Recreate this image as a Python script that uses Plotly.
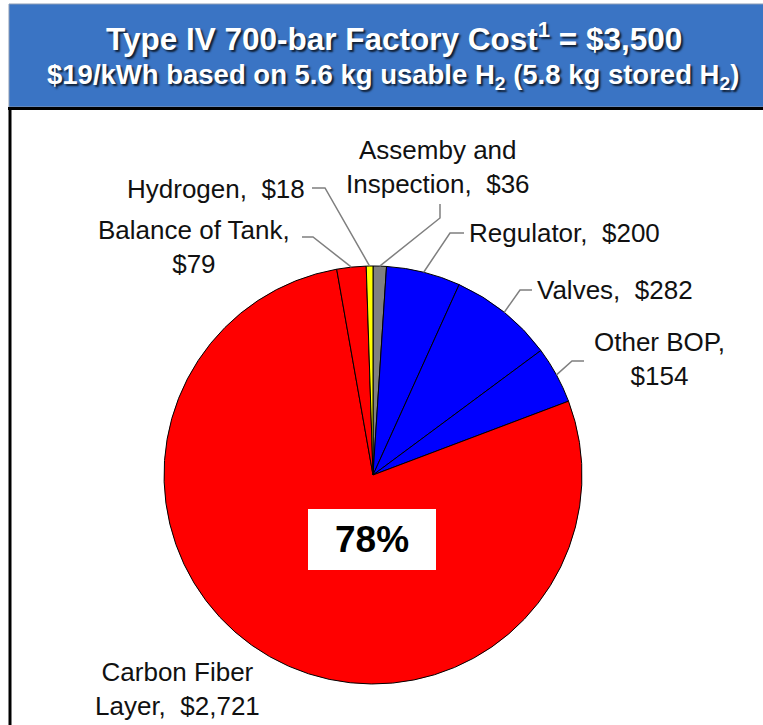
import math
import plotly.graph_objects as go

# ---- data ----
categories = ["Assemby and Inspection", "Regulator", "Valves", "Other BOP",
              "Carbon Fiber Layer", "Balance of Tank", "Hydrogen"]
costs = [36, 200, 282, 154, 2721, 79, 18]
colors = ["#808080", "#0000FF", "#0000FF", "#0000FF", "#FF0000", "#FF0000", "#FFFF00"]
label_texts = ["Assemby and<br>Inspection,  $36", "Regulator,  $200", "Valves,  $282",
               "Other BOP,<br>$154", "Carbon Fiber<br>Layer,  $2,721",
               "Balance of Tank,<br>$79", "Hydrogen,  $18"]
title1 = "Type IV 700-bar Factory Cost<sup>1</sup> = $3,500"
title2 = "$19/kWh based on 5.6 kg usable H<sub>2</sub> (5.8 kg stored H<sub>2</sub>)"

W, H = 763, 725
CX, CY, R = 373, 475, 209


def px(x):
    return x / W


def py(y):
    return 1 - y / H


fig = go.Figure()
fig.add_trace(go.Pie(
    labels=categories, values=costs, sort=False, direction="clockwise", rotation=0,
    marker=dict(colors=colors, line=dict(color="black", width=1)),
    textinfo="none", hoverinfo="label+value", showlegend=False,
    domain=dict(x=[px(CX - R), px(CX + R)], y=[py(CY + R), py(CY - R)]),
))

shapes = []
annotations = []

# header box
shapes.append(dict(type="rect", xref="paper", yref="paper",
                   x0=px(9), x1=px(765), y0=py(107), y1=py(4),
                   fillcolor="#3A74C4", line=dict(color="#8A9BB5", width=1), layer="below"))
shapes.append(dict(type="line", xref="paper", yref="paper",
                   x0=px(8), x1=px(765), y0=py(108.5), y1=py(108.5),
                   line=dict(color="black", width=3)))
shapes.append(dict(type="line", xref="paper", yref="paper",
                   x0=px(10), x1=px(10), y0=py(108), y1=py(730),
                   line=dict(color="black", width=3)))

shadow = "2px 2px 2px rgba(0,0,0,0.75)"
annotations.append(dict(text="<b>" + title1 + "</b>", xref="paper", yref="paper",
                        x=px(394), y=py(37), showarrow=False, xanchor="center", yanchor="middle",
                        font=dict(family="Liberation Sans, Arial", size=31.5, color="white", shadow=shadow)))
annotations.append(dict(text="<b>" + title2 + "</b>", xref="paper", yref="paper",
                        x=px(393), y=py(77), showarrow=False, xanchor="center", yanchor="middle",
                        font=dict(family="Liberation Sans, Arial", size=27.5, color="white", shadow=shadow)))

# label positions (pixels) and leader elbows
label_pos = {
    "Assemby and Inspection": (438, 167, "center", "center"),
    "Regulator": (467, 233, "left", "left"),
    "Valves": (535, 290, "left", "left"),
    "Other BOP": (659, 359, "center", "center"),
    "Carbon Fiber Layer": (177, 689, "center", "center"),
    "Balance of Tank": (194, 247, "center", "center"),
    "Hydrogen": (307, 189, "right", "right"),
}
leaders = {
    "Assemby and Inspection": [(440, 204), (440, 218)],
    "Regulator": [(464, 233), (450, 233)],
    "Valves": [(532, 290), (520, 290)],
    "Other BOP": [(584, 361), (572, 361)],
    "Balance of Tank": [(302, 237), (313, 237)],
    "Hydrogen": [(312, 188), (325, 188)],
}

total = sum(costs)
cum = 0
for cat, val, txt in zip(categories, costs, label_texts):
    mid = (cum + val / 2) / total * 2 * math.pi
    cum += val
    ex = CX + R * math.sin(mid)
    ey = CY - R * math.cos(mid)
    x, y, xa, al = label_pos[cat]
    annotations.append(dict(text=txt, xref="paper", yref="paper", x=px(x), y=py(y),
                            showarrow=False, xanchor=xa, yanchor="middle", align=al,
                            font=dict(family="Liberation Sans, Arial", size=26, color="#111111")))
    if cat in leaders:
        pts = leaders[cat] + [(ex, ey)]
        path = "M " + " L ".join(f"{px(a):.5f},{py(b):.5f}" for a, b in pts)
        shapes.append(dict(type="path", xref="paper", yref="paper", path=path,
                           line=dict(color="#7F7F7F", width=1.5)))

# percentage box
pct = costs[categories.index("Carbon Fiber Layer")] / total * 100
shapes.append(dict(type="rect", xref="paper", yref="paper",
                   x0=px(308), x1=px(436), y0=py(570), y1=py(509),
                   fillcolor="white", line=dict(width=0), layer="above"))
annotations.append(dict(text=f"<b>{pct:.0f}%</b>", xref="paper", yref="paper",
                        x=px(372), y=py(539), showarrow=False, xanchor="center", yanchor="middle",
                        font=dict(family="Liberation Sans, Arial", size=37, color="black")))

fig.update_layout(width=W, height=H, margin=dict(l=0, r=0, t=0, b=0),
                  paper_bgcolor="white", plot_bgcolor="white",
                  shapes=shapes, annotations=annotations)

fig.write_html("out.html", config={"displayModeBar": False},
               post_script="document.body.style.margin='0';document.body.style.overflow='hidden';")
